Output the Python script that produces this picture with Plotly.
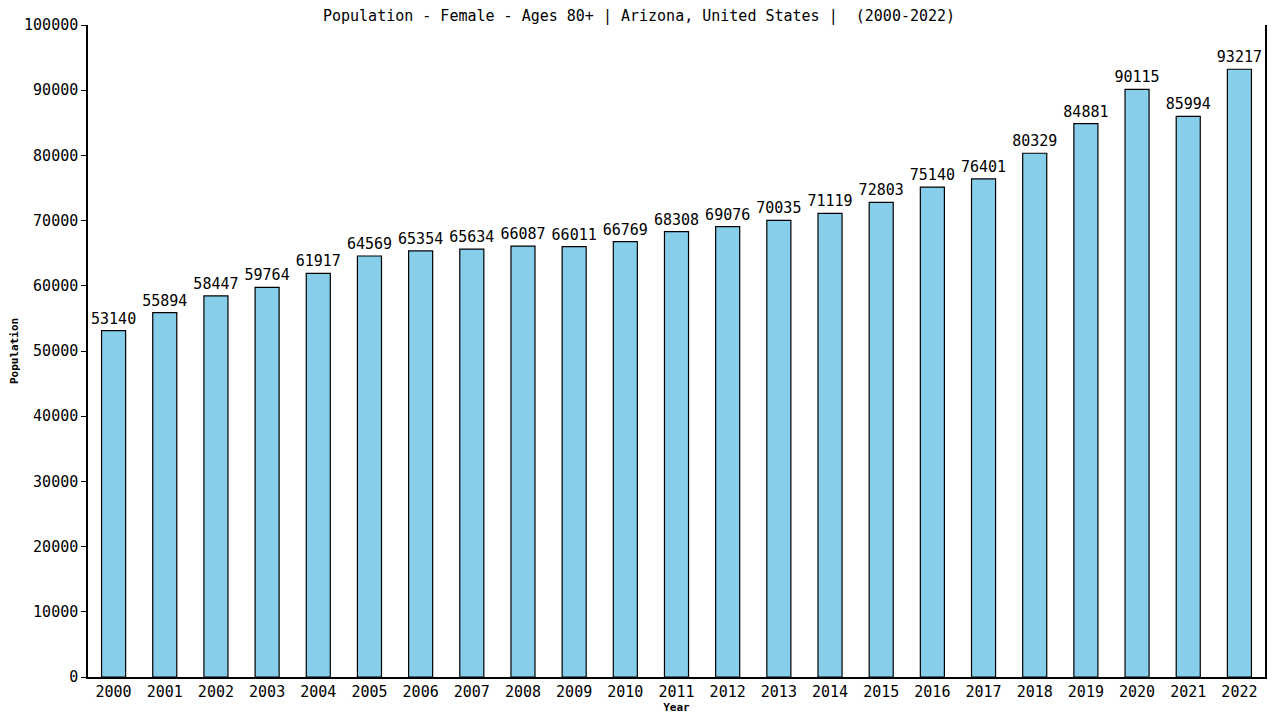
import plotly.graph_objs as go

years = [str(y) for y in range(2000, 2023)]
population = [53140, 55894, 58447, 59764, 61917, 64569, 65354, 65634, 66087, 66011,
              66769, 68308, 69076, 70035, 71119, 72803, 75140, 76401, 80329, 84881,
              90115, 85994, 93217]
y_ticks = list(range(0, 100001, 10000))

MONO = "DejaVu Sans Mono"

fig = go.Figure()
fig.add_trace(go.Bar(
    x=years,
    y=population,
    text=[str(v) for v in population],
    textposition='outside',
    constraintext='none',
    cliponaxis=False,
    textfont=dict(family=MONO, size=15, color='black'),
    marker=dict(color='#87CEEB', line=dict(color='black', width=1.2)),
    width=0.47,
))

# the page body adds an 8px margin, so margins are shifted to compensate
fig.update_layout(
    title=dict(text='Population - Female - Ages 80+ | Arizona, United States |  (2000-2022)',
               x=0.493, xanchor='center', y=0.996, yanchor='top', pad=dict(t=0, b=0),
               font=dict(family=MONO, size=15, color='black')),
    width=1280, height=720,
    margin=dict(l=80, r=23, t=17, b=51),
    plot_bgcolor='white',
    paper_bgcolor='white',
    showlegend=False,
    xaxis=dict(
        title=dict(text='<b>Year</b>', font=dict(family=MONO, size=11, color='black'), standoff=2),
        type='category',
        range=[-0.5, 22.5],
        automargin=False,
        showline=True, linecolor='black', linewidth=1.5,
        ticks='', showgrid=False,
        tickfont=dict(family=MONO, size=15, color='black'),
    ),
    yaxis=dict(
        title=dict(text='<b>Population</b>', font=dict(family=MONO, size=11, color='black'), standoff=4),
        range=[0, 100000],
        automargin=False,
        tickvals=y_ticks,
        ticktext=[str(v) for v in y_ticks],
        showline=True, linecolor='black', linewidth=1.5, mirror=True,
        ticks='outside', ticklen=5, tickcolor='black',
        showgrid=False, zeroline=False,
        tickfont=dict(family=MONO, size=15, color='black'),
    ),
)

fig.write_html("out.html")
